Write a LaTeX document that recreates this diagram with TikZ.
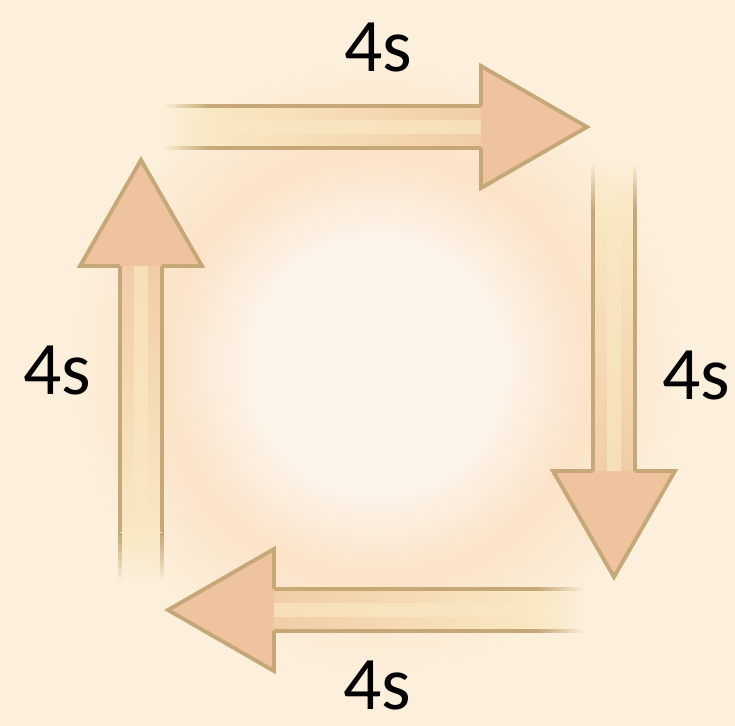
\documentclass[tikz,border=0pt]{standalone}
\usepackage{fontspec}
\setmainfont{Carlito}
\usepackage{xcolor}

\definecolor{bgcream}{HTML}{FCF0DC}
\definecolor{bgcenter}{HTML}{FDF5EC}
\definecolor{glowpeach}{HTML}{FBE3C8}
\definecolor{headpeach}{HTML}{EEC39E}
\definecolor{rimtan}{HTML}{C6A777}
\definecolor{shaftlight}{HTML}{F9E8C2}
\definecolor{shaftmid}{HTML}{F1CDA6}

\pgfdeclareradialshading{glowring}{\pgfpoint{0bp}{0bp}}{color(0bp)=(bgcenter); color(34bp)=(bgcenter); color(60bp)=(glowpeach); color(88bp)=(bgcream); color(112bp)=(bgcream)}

\begin{document}
\begin{tikzpicture}[
    x=0.01cm, y=0.01cm,
    secs/.style={inner sep=0pt, font=\fontsize{21.5}{26}\selectfont, text=black},
    shaft/.style={left color=shaftlight, right color=shaftmid},
    shaftrim/.style={fill=rimtan},
    arrowhead/.style={fill=headpeach, draw=rimtan, line width=1.1pt, line join=miter}
]

% Background
\fill[bgcream] (0,0) rectangle (735,726);
\useasboundingbox (0,0) rectangle (735,726);
\node[inner sep=0pt] (glow) at (377,360) {\pgfuseshading{glowring}};

% Arrows: tail x / tail y / direction / length
\foreach \x/\y/\a/\len in {165/599/0/422, 614/561/-90/412, 583/116/180/415, 141/146/90/420}{
  \begin{scope}[transform canvas={shift={(\x,\y)}, rotate=\a}]
    % faded tail
    \foreach \i [evaluate=\i as \op using \i/12] in {1,...,12}{
      \fill[shaftlight, opacity=\op] (\i*4-4,-21) rectangle (\i*4,21);
      \fill[shaftrim, opacity=\op] (\i*4-4,19) rectangle (\i*4,23);
      \fill[shaftrim, opacity=\op] (\i*4-4,-23) rectangle (\i*4,-19);
    }
    \fill[shaft] (48,-21) rectangle (\len-105, 21);
    \fill[shaftlight, opacity=0.7] (48,-7) rectangle (\len-105, 7);
    \fill[shaftrim] (48,19) rectangle (\len-105, 23);
    \fill[shaftrim] (48,-23) rectangle (\len-105, -19);
    \draw[arrowhead] (\len-106,21) -- (\len-106,61) -- (\len,0) -- (\len-106,-61) -- (\len-106,-21);
  \end{scope}
}

% Labels
\node[secs] (inhale) at (378,678) {4s};
\node[secs] (hold1) at (696,350) {4s};
\node[secs] (exhale) at (377,40) {4s};
\node[secs] (hold2) at (57,355) {4s};

\end{tikzpicture}
\end{document}
